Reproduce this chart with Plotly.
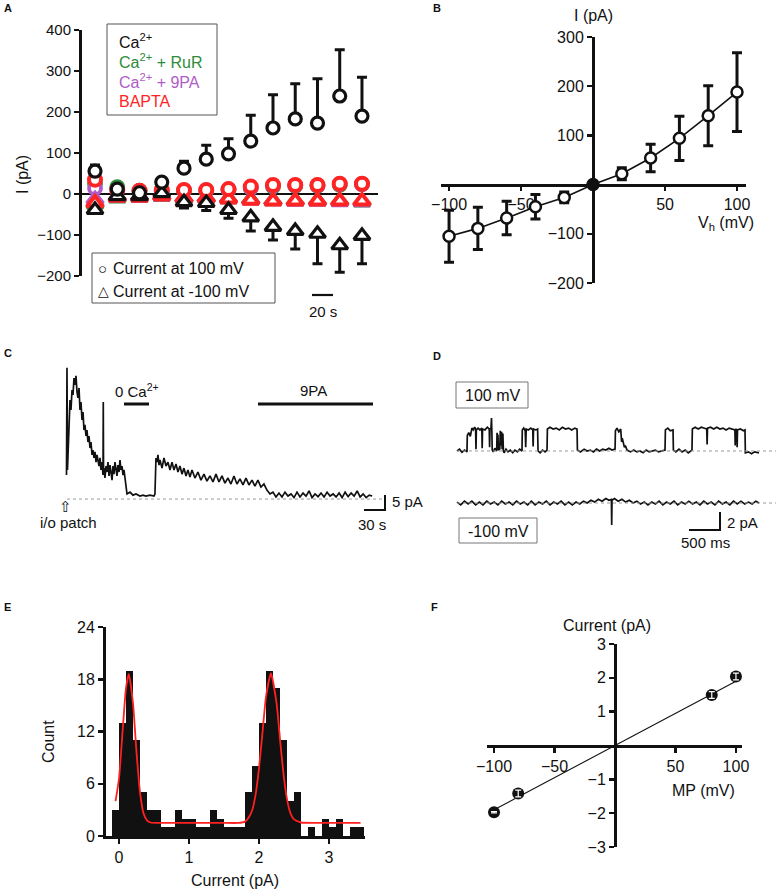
import plotly.graph_objects as go

W, H = 776, 893
FONT = "Liberation Sans, Arial, sans-serif"
INK = "#111111"
GREEN = "#2e8b3a"
PURPLE = "#b05cc8"
RED = "#ff2424"

# ---------------- Panel A data ----------------
a_time = [0, 20, 40, 60, 80, 100, 120, 140, 160, 180, 200, 220, 240]
a_ca_100 = [56, 12, 3, 29, 63, 85, 98, 129, 161, 183, 173, 239, 190]
a_ca_100_err = [15, 5, 3, 5, 17, 34, 37, 63, 81, 86, 108, 113, 95]
a_ca_m100 = [-39, -5, -5, 2, -20, -22, -39, -57, -80, -90, -97, -125, -102]
a_ca_m100_err = [5, 3, 3, 3, 14, 18, 20, 33, 32, 44, 73, 66, 68]
a_rur_100 = [25, 17, 8, 6, 8, 8, 10, 14, 18, 20, 20, 22, 24]
a_rur_m100 = [-25, -10, -8, -6, -10, -10, -12, -14, -17, -17, -17, -18, -20]
a_9pa_100 = [14, 10, 7, 6, 9, 9, 11, 15, 20, 21, 21, 24, 24]
a_9pa_m100 = [-14, -8, -8, -5, -10, -10, -12, -15, -17, -18, -18, -19, -19]
a_bapta_100 = [35, 10, 8, 10, 10, 10, 12, 18, 22, 22, 22, 25, 25]
a_bapta_m100 = [-22, -8, -8, -5, -10, -10, -12, -15, -17, -17, -17, -17, -17]
a_yticks = [-200, -100, 0, 100, 200, 300, 400]

# ---------------- Panel B data ----------------
b_vh = [-100, -80, -60, -40, -20, 0, 20, 40, 60, 80, 100]
b_i = [-105, -89, -68, -45, -26, 0, 22, 54, 94, 140, 188]
b_err = [53, 43, 34, 25, 11, 0, 12, 28, 45, 61, 80]
b_xticks = [-100, -50, 50, 100]
b_yticks = [-200, -100, 100, 200, 300]

# ---------------- Panel C data (s, pA) ----------------
c_t = [-0.7, 0, 0.7, 2.9, 4.3, 5.7, 7.2, 8.6, 10, 11.4, 12.9, 14.3, 15.7, 17.2, 18.6, 20, 21.5,
       22.9, 24.3, 25.7, 27.2, 28.6, 30, 31.5, 32.9, 34.3, 35.8, 37.2, 38.6, 40, 41.5, 42.9, 44.3,
       45.8, 47.2, 48.6, 50, 51.5, 51.9, 52.3, 52.9, 54.3, 55.8, 57.2, 58.6, 60.1, 61.5, 62.9, 64.4,
       65.8, 67.2, 68.6, 70.1, 71.5, 72.9, 74.4, 75.8, 77.2, 78.7, 80.1, 81.5, 82.9, 84.4, 85.8,
       90.1, 94.4, 98.7, 104.4, 108.7, 113, 118.7, 124.4, 125.8, 127.3, 128.7, 130.1, 131.6, 133,
       135.9, 138.7, 141.6, 144.4, 147.3, 150.2, 153, 155.9, 158.7, 161.6, 164.5, 167.3, 170.2,
       173, 175.9, 178.8, 183, 187.3, 191.6, 195.9, 200.2, 204.5, 208.8, 213.1, 217.4, 221.7,
       225.9, 230.2, 234.5, 238.8, 243.1, 247.4, 251.7, 256, 260.3, 264.6, 268.8, 273.1, 277.4,
       281.7, 286, 290.3, 294.6, 298.9, 303.2, 307.5, 311.8, 316.1, 320.4, 324.7, 329, 333.3,
       337.6, 341.9, 346.2, 350.5, 354.8, 359.1, 363.4, 367.7, 372, 376.3, 380.6, 384.9, 389.2,
       393.5, 397.8, 402.1, 406.4, 410.7, 415, 419.3, 423.6, 427.9, 432.2, 436.5]
c_i = [8, 43.7, 9.7, 26.3, 33, 29.7, 36.3, 34.7, 40.3, 38, 41, 35.7, 33.7, 37, 29.7, 32.3, 26.3,
       29, 23, 24.7, 21, 23, 19, 21, 17, 19, 14.7, 16.3, 13.7, 15.7, 12.3, 14.7, 13,
       11, 13.7, 9.7, 12.3, 8, 32.3, 8, 10.3, 7, 11, 9, 12.3, 7.7, 11.3, 9, 6.3,
       11, 8.3, 12.3, 9.7, 7.7, 11.3, 9, 13, 9.7, 11, 8, 9.7, 7, 3.7, 1.7,
       2.3, 1.3, 1.7, 1, 1.3, 1, 1.3, 1, 1.7, 13.7, 12.3, 14.7, 11.3, 13,
       10.3, 13.7, 11, 12.3, 9.7, 12.3, 9.7, 11.7, 9, 11, 8.3, 10.3, 7.7,
       9.7, 7.3, 9.7, 7, 9, 6.3, 8.3, 6, 7.7, 5.7, 8.3, 5.7, 7.7,
       5.3, 7, 5, 7.7, 5, 6.7, 4.7, 7, 4.7, 6.3, 4.3, 6.3, 4,
       5, 3, 1.7, 2.3, 0.7, 2.0, 0.7, 2.3, 1.0, 1.7, 0.5, 2.3, 0.7,
       2.0, 1.0, 2.7, 0.5, 1.7, 0.8, 2.0, 0.7, 2.3, 1.0, 1.7, 0.7, 2.0,
       0.5, 2.3, 0.8, 2.0, 1.0, 2.7, 0.7, 1.7, 0.5, 1.3, 1.0]

# ---------------- Panel D data (ms, pA) ----------------
d_up_t = [0, 40, 80, 120, 161, 166, 190, 215, 240, 262, 285, 300, 306, 312, 340, 370, 400, 406,
          412, 450, 490, 520, 526, 532, 548, 556, 562, 568, 585, 610, 640, 646, 652, 660, 668,
          690, 698, 705, 720, 728, 740, 748, 760, 790, 823, 860, 900, 935, 975, 1010, 1048, 1053,
          1075, 1100, 1108, 1116, 1150, 1190, 1222, 1228, 1234, 1270, 1300, 1307, 1340, 1380,
          1420, 1452, 1458, 1500, 1550, 1600, 1650, 1700, 1750, 1800, 1850, 1900, 1936, 1942,
          1990, 2050, 2100, 2150, 2200, 2250, 2300, 2350, 2400, 2450, 2500, 2549, 2555, 2580,
          2610, 2640, 2655, 2665, 2680, 2700, 2715, 2742, 2800, 2850, 2900, 2950, 3000, 3050,
          3100, 3150, 3200, 3250, 3300, 3355, 3361, 3400, 3440, 3484, 3490, 3530, 3580, 3630,
          3680, 3730, 3790, 3796, 3840, 3890, 3940, 3990, 4028, 4034, 4040, 4090, 4140, 4190,
          4240, 4290, 4340, 4390, 4440, 4482, 4487, 4493, 4512, 4518, 4524, 4570, 4620, 4645,
          4651, 4700, 4750, 4800, 4871]
d_up_i = [0.0, 0.2, -0.15, 0.1, -0.1, 1.7, 2.0, 1.6, 2.5, 2.3, 2.6, 2.4, 0.2, 2.3, 2.5, 2.3, 2.5, 0.3,
          2.4, 2.3, 2.6, 2.4, 0.4, 2.4, 2.5, 3.6, 2.2, 0.1, -0.1, 0.3, 0.0, 2.0, 0.3, 1.8, 0.1,
          0.2, 2.2, 0.6, 2.1, 0.2, 1.9, 0.0, -0.2, 0.2, -0.1, 0.1, -0.2, 0.1, -0.1, 0.2, 0.0, 2.3,
          2.5, 2.2, 0.4, 2.4, 2.3, 2.5, 2.3, 0.5, 2.4, 2.3, 2.4, 0.0, -0.2, 0.1,
          -0.1, 0.1, 2.4, 2.6, 2.4, 2.5, 2.3, 2.6, 2.4, 2.5, 2.3, 2.5, 2.4, 0.1,
          -0.1, 0.2, 0.0, 0.1, -0.1, 0.2, 0.0, 0.2, 0.1, 0.3, 0.1, 0.2, 2.2, 2.5,
          2.1, 2.4, 1.0, 1.4, 0.9, 0.4, 0.6, 0.1, -0.1, 0.1, -0.1, 0.0, -0.2, 0.1,
          -0.1, 0.0, 0.1, -0.1, 0.0, 0.1, 2.3, 2.5, 2.2, 2.3, 0.1, -0.1, 0.2, -0.1,
          0.1, -0.2, 0.1, 2.4, 2.6, 2.4, 2.6, 2.5, 2.4, 0.7, 2.5, 2.6, 2.4, 2.6,
          2.4, 2.5, 2.3, 2.5, 2.4, 2.3, 0.6, 2.4, 2.3, 0.4, 2.3, 2.4, 2.2, 2.3,
          -0.2, -0.1, -0.3, -0.1, -0.2]
d_lo_t = [0, 60, 120, 180, 240, 300, 360, 420, 480, 540, 600, 660, 720, 780, 840, 900, 960, 1020,
          1080, 1140, 1200, 1260, 1320, 1380, 1440, 1500, 1560, 1620, 1680, 1740, 1800, 1860,
          1920, 1980, 2040, 2100, 2160, 2220, 2280, 2340, 2400, 2450, 2490, 2495, 2500, 2540,
          2600, 2660, 2720, 2780, 2840, 2900, 2960, 3020, 3080, 3140, 3200, 3260, 3320, 3380,
          3440, 3500, 3560, 3620, 3680, 3740, 3800, 3860, 3920, 3980, 4040, 4100, 4160, 4220,
          4280, 4340, 4400, 4460, 4520, 4580, 4640, 4700, 4760, 4820, 4871]
d_lo_i = [0.1, -0.2, 0.2, -0.1, 0.2, -0.2, 0.1, -0.2, 0.2, -0.1, 0.1, -0.2, 0.2, -0.1, 0.1, -0.2,
          0.2, -0.1, 0.1, -0.2, 0.2, -0.2, 0.1, -0.1, 0.2, -0.2, 0.1, -0.1, 0.2, -0.2, 0.1, -0.2,
          0.1, -0.1, 0.2, 0.0, 0.3, 0.1, 0.4, 0.2, 0.5, 0.3, 0.4, -2.4, 0.3, 0.5,
          0.2, 0.4, 0.1, 0.3, 0.0, 0.2, -0.1, 0.1, -0.2, 0.1, -0.1, 0.2, -0.2, 0.1,
          -0.1, 0.2, -0.2, 0.1, -0.1, 0.2, -0.1, 0.1, -0.2, 0.2, -0.1, 0.1, -0.2, 0.2,
          -0.1, 0.1, -0.2, 0.2, -0.1, 0.2, -0.1, 0.1, -0.1, 0.2, 0.0]

# ---------------- Panel E data ----------------
e_bins = [-0.05, 0.05, 0.15, 0.25, 0.35, 0.45, 0.55, 0.65, 0.75, 0.85, 0.95, 1.05, 1.15, 1.25,
          1.35, 1.45, 1.55, 1.65, 1.75, 1.85, 1.95, 2.05, 2.15, 2.25, 2.35, 2.45, 2.55, 2.65,
          2.75, 2.85, 2.95, 3.05, 3.15, 3.25, 3.35, 3.45]
e_count = [3, 13, 19, 11, 5, 3, 3, 1, 1, 3, 2, 2, 1, 1, 3, 2, 1, 1, 1, 5, 8, 13, 19, 17, 11, 4, 5,
           0, 1, 0, 2, 1, 2, 0, 1, 1]
e_fit_x = [-0.05, 0.0, 0.05, 0.1, 0.14, 0.2, 0.25, 0.3, 0.35, 0.4, 0.45, 0.6, 0.9, 1.2, 1.5, 1.7,
           1.8, 1.85, 1.9, 1.95, 2.0, 2.05, 2.1, 2.17, 2.25, 2.3, 2.35, 2.4, 2.45, 2.5, 2.6, 2.8,
           3.1, 3.45]
e_fit_y = [4.0, 6.6, 11.9, 17.0, 18.6, 15.2, 9.6, 5.0, 2.6, 1.8, 1.55, 1.5, 1.5, 1.5, 1.5, 1.5,
           1.65, 2.1, 2.9, 4.7, 7.8, 11.9, 16.0, 18.7, 15.3, 11.1, 7.1, 4.2, 2.6, 1.9, 1.55, 1.5,
           1.5, 1.5]
e_xticks = [0, 1, 2, 3]
e_yticks = [0, 6, 12, 18, 24]

# ---------------- Panel F data ----------------
f_mp = [-100, -80, 80, 100]
f_i = [-1.97, -1.42, 1.49, 2.04]
f_err = [0.02, 0.1, 0.1, 0.1]
f_fit_mp = [-100, 100]
f_fit_i = [-1.9, 1.9]
f_xticks = [-100, -50, 50, 100]
f_yticks = [-3, -2, -1, 1, 2, 3]


def X(p):
    return p / W


def Y(p):
    return 1 - p / H


fig = go.Figure()

# ---- Panel A traces ----
def a_series(vals, symbol, color, size, err=None, up=True, lw=3.2):
    kw = {}
    if err is not None:
        if up:
            kw["error_y"] = dict(type="data", symmetric=False, array=err, arrayminus=[0] * len(err),
                                 color=INK, thickness=3, width=5)
        else:
            kw["error_y"] = dict(type="data", symmetric=False, array=[0] * len(err), arrayminus=err,
                                 color=INK, thickness=3, width=5)
    fig.add_trace(go.Scatter(x=a_time, y=vals, mode="markers", xaxis="x", yaxis="y",
                             marker=dict(symbol=symbol, size=size, color="white",
                                         line=dict(color=color, width=lw)), **kw))


a_series(a_rur_100, "circle", GREEN, 12, lw=3.8)
a_series(a_rur_m100, "triangle-up", GREEN, 14, lw=3.8)
a_series(a_9pa_100, "circle", PURPLE, 12, lw=3.8)
a_series(a_9pa_m100, "triangle-up", PURPLE, 14, lw=3.8)
a_series(a_bapta_m100, "triangle-up", RED, 14, lw=4)
a_series(a_bapta_100, "circle", RED, 12, lw=4)
a_series(a_ca_m100, "triangle-up", INK, 14, a_ca_m100_err, up=False)
a_series(a_ca_100, "circle", INK, 12, a_ca_100_err, up=True)

# ---- Panel B traces ----
fig.add_trace(go.Scatter(x=b_vh, y=b_i, mode="lines", xaxis="x2", yaxis="y2",
                         line=dict(color=INK, width=1.6)))
fig.add_trace(go.Scatter(x=b_vh, y=b_i, mode="markers", xaxis="x2", yaxis="y2",
                         marker=dict(symbol="circle", size=11,
                                     color=[INK if v == 0 else "white" for v in b_vh],
                                     line=dict(color=INK, width=2.5)),
                         error_y=dict(type="data", array=b_err, color=INK, thickness=3, width=5)))

# ---- Panel C trace ----
fig.add_trace(go.Scatter(x=c_t, y=c_i, mode="lines", xaxis="x3", yaxis="y3",
                         line=dict(color=INK, width=1.7)))

# ---- Panel D traces ----
fig.add_trace(go.Scatter(x=d_up_t, y=d_up_i, mode="lines", xaxis="x4", yaxis="y4",
                         line=dict(color=INK, width=1.7)))
fig.add_trace(go.Scatter(x=d_lo_t, y=d_lo_i, mode="lines", xaxis="x5", yaxis="y5",
                         line=dict(color=INK, width=1.7)))

# ---- Panel E traces ----
fig.add_trace(go.Bar(x=e_bins, y=e_count, width=0.1, xaxis="x6", yaxis="y6",
                     marker=dict(color=INK, line=dict(width=0))))
fig.add_trace(go.Scatter(x=e_fit_x, y=e_fit_y, mode="lines", xaxis="x6", yaxis="y6",
                         line=dict(color="#ff2020", width=1.8, shape="spline", smoothing=0.5)))

# ---- Panel F traces ----
fig.add_trace(go.Scatter(x=f_fit_mp, y=f_fit_i, mode="lines", xaxis="x7", yaxis="y7",
                         line=dict(color=INK, width=1.1)))
fig.add_trace(go.Scatter(x=f_mp, y=f_i, mode="markers", xaxis="x7", yaxis="y7",
                         marker=dict(symbol="circle", size=12, color=INK)))
fig.add_trace(go.Scatter(x=f_mp, y=f_i, mode="markers", xaxis="x7", yaxis="y7",
                         marker=dict(size=2, color="rgba(0,0,0,0)"),
                         error_y=dict(type="data", array=f_err, color="white", thickness=1.2, width=3)))

tickfont = dict(family=FONT, size=15, color=INK)
tickfont16 = dict(family=FONT, size=16, color=INK)
axline = dict(showline=True, linecolor=INK, linewidth=3, ticks="outside", ticklen=5,
              tickwidth=2.5, tickcolor=INK, showgrid=False, zeroline=False, fixedrange=True,
              automargin=False)
hidden = dict(visible=False, showgrid=False, zeroline=False, fixedrange=True, automargin=False)

layout = dict(
    template="none",
    width=W, height=H, margin=dict(l=0, r=0, t=0, b=0, pad=0, autoexpand=False),
    paper_bgcolor="white", plot_bgcolor="rgba(0,0,0,0)", showlegend=False,
    font=dict(family=FONT, color=INK), bargap=0,
    # A
    xaxis=dict(domain=[X(82), X(378)], range=[-11.7, 254.4], anchor="y", **hidden),
    yaxis=dict(domain=[Y(276), Y(30)], range=[-200, 400], anchor="x", tickvals=a_yticks,
               tickfont=tickfont, **{**axline, "zeroline": True}, zerolinecolor=INK,
               zerolinewidth=2.5),
    # B
    xaxis2=dict(domain=[X(441), X(746)], range=[-105.6, 106.25], anchor="free",
                position=Y(184.6), tickvals=b_xticks, tickfont=tickfont16,
                layer="below traces", **{**axline, "ticklen": 4}),
    yaxis2=dict(domain=[Y(283), Y(37)], range=[-200, 300], anchor="free", position=X(593),
                tickvals=b_yticks, tickfont=tickfont16, layer="below traces", **axline),
    # C
    xaxis3=dict(domain=[X(60), X(390)], range=[-10, 462], anchor="y3", **hidden),
    yaxis3=dict(domain=[Y(530), Y(360)], range=[-10.3, 46.3], anchor="x3", **hidden),
    # D
    xaxis4=dict(domain=[X(450), 1.0], range=[-113, 5145], anchor="y4", **hidden),
    yaxis4=dict(domain=[Y(470), Y(410)], range=[-2.08, 4.48], anchor="x4", **hidden),
    xaxis5=dict(domain=[X(450), 1.0], range=[-113, 5145], anchor="y5", **hidden),
    yaxis5=dict(domain=[Y(545), Y(485)], range=[-4.59, 1.97], anchor="x5", **hidden),
    # E
    xaxis6=dict(domain=[X(106), X(365)], range=[-0.186, 3.514], anchor="y6", tickvals=e_xticks,
                tickfont=tickfont16, **axline),
    yaxis6=dict(domain=[Y(836), Y(627)], range=[0, 24], anchor="x6", tickvals=e_yticks,
                tickfont=tickfont16, **axline),
    # F
    xaxis7=dict(domain=[X(487), X(742)], range=[-105.8, 105], anchor="free", position=Y(746),
                tickvals=f_xticks, tickfont=tickfont16, layer="below traces", **axline),
    yaxis7=dict(domain=[Y(847), Y(644)], range=[-3, 3], anchor="free", position=X(615),
                tickvals=f_yticks, tickfont=tickfont16, layer="below traces", **axline),
)
fig.update_layout(**layout)

shapes = []
annotations = []


def line_px(x0, y0, x1, y1, width=2.5, color=INK, dash=None):
    ln = dict(color=color, width=width)
    if dash:
        ln["dash"] = dash
    shapes.append(dict(type="line", xref="paper", yref="paper", x0=X(x0), y0=Y(y0), x1=X(x1),
                       y1=Y(y1), line=ln))


def rect_px(x0, y0, x1, y1, color="#555555", width=1):
    shapes.append(dict(type="rect", xref="paper", yref="paper", x0=X(x0), y0=Y(y0), x1=X(x1),
                       y1=Y(y1), line=dict(color=color, width=width), fillcolor="rgba(0,0,0,0)"))


def text_px(x, y, text, size=16, color=INK, xanchor="center", yanchor="middle", angle=0):
    annotations.append(dict(xref="paper", yref="paper", x=X(x), y=Y(y), text=text, showarrow=False,
                            xanchor=xanchor, yanchor=yanchor, textangle=angle,
                            font=dict(family=FONT, size=size, color=color)))


# panel letters
for lx, ly, lt in [(2, 8, "A"), (431, 8, "B"), (2, 353, "C"), (431, 356, "D"), (2, 607, "E"),
                   (429, 607, "F")]:
    text_px(lx, ly, "<b>%s</b>" % lt, size=11, xanchor="left")

# ---- Panel A decorations ----
text_px(22, 175, "I (pA)", size=16, angle=-90)
rect_px(107, 24, 217, 115)
text_px(117, 41, "Ca<sup>2+</sup>", size=16, xanchor="left")
text_px(117, 61, "Ca<sup>2+</sup> + RuR", size=16, color=GREEN, xanchor="left")
text_px(117, 81, "Ca<sup>2+</sup> + 9PA", size=16, color=PURPLE, xanchor="left")
text_px(117, 101, "BAPTA", size=16, color=RED, xanchor="left")
rect_px(92, 253, 275, 303)
text_px(96, 268, "\u25cb", size=15, xanchor="left")
text_px(111, 268, "Current at 100 mV", size=16, xanchor="left")
text_px(96, 291, "\u25b3", size=14, xanchor="left")
text_px(111, 291, "Current at -100 mV", size=16, xanchor="left")
line_px(312, 295, 333, 295, width=2.2)
text_px(323, 311, "20 s", size=15)

# ---- Panel B decorations ----
text_px(593, 16, "I (pA)", size=16)
text_px(726, 224, "V<sub>h</sub> (mV)", size=16)

# ---- Panel C decorations ----
shapes.append(dict(type="line", xref="x3", yref="y3", x0=0, x1=452, y0=0, y1=0,
                   line=dict(color="#9a9a9a", width=1, dash="dot")))
line_px(124, 404, 149, 404, width=3)
text_px(137, 390, "0 Ca<sup>2+</sup>", size=15)
line_px(258, 404, 373, 404, width=3)
text_px(313, 391, "9PA", size=15)
line_px(385, 495, 385, 510.5, width=2)
line_px(364, 510, 386, 510, width=2)
text_px(390, 501, "5 pA", size=15, xanchor="left")
text_px(372, 524, "30 s", size=15)
text_px(65, 506, "\u21e7", size=15)
text_px(68, 522, "i/o patch", size=15)

# ---- Panel D decorations ----
shapes.append(dict(type="line", xref="x4", yref="y4", x0=0, x1=5145, y0=0, y1=0,
                   line=dict(color="#9a9a9a", width=1, dash="dot")))
shapes.append(dict(type="line", xref="x5", yref="y5", x0=0, x1=5145, y0=0, y1=0,
                   line=dict(color="#9a9a9a", width=1, dash="dot")))
rect_px(456, 382, 528, 408, color="#777777")
text_px(492, 395, "100 mV", size=16)
rect_px(459, 518, 537, 543, color="#777777")
text_px(498, 531, "-100 mV", size=16)
line_px(720, 512, 720, 530.5, width=2)
line_px(689, 530, 721, 530, width=2)
text_px(725, 522, "2 pA", size=15, xanchor="left")
text_px(705, 542, "500 ms", size=15)

# ---- Panel E decorations ----
text_px(48, 742, "Count", size=16, angle=-90)
text_px(235, 880, "Current (pA)", size=16)

# ---- Panel F decorations ----
text_px(607, 625, "Current (pA)", size=16)
text_px(703, 790, "MP (mV)", size=16)

fig.update_layout(shapes=shapes, annotations=annotations)
fig.write_html("out.html", config={"displayModeBar": False, "staticPlot": True},
               post_script="document.body.style.margin='0px';document.body.style.overflow='hidden';")
